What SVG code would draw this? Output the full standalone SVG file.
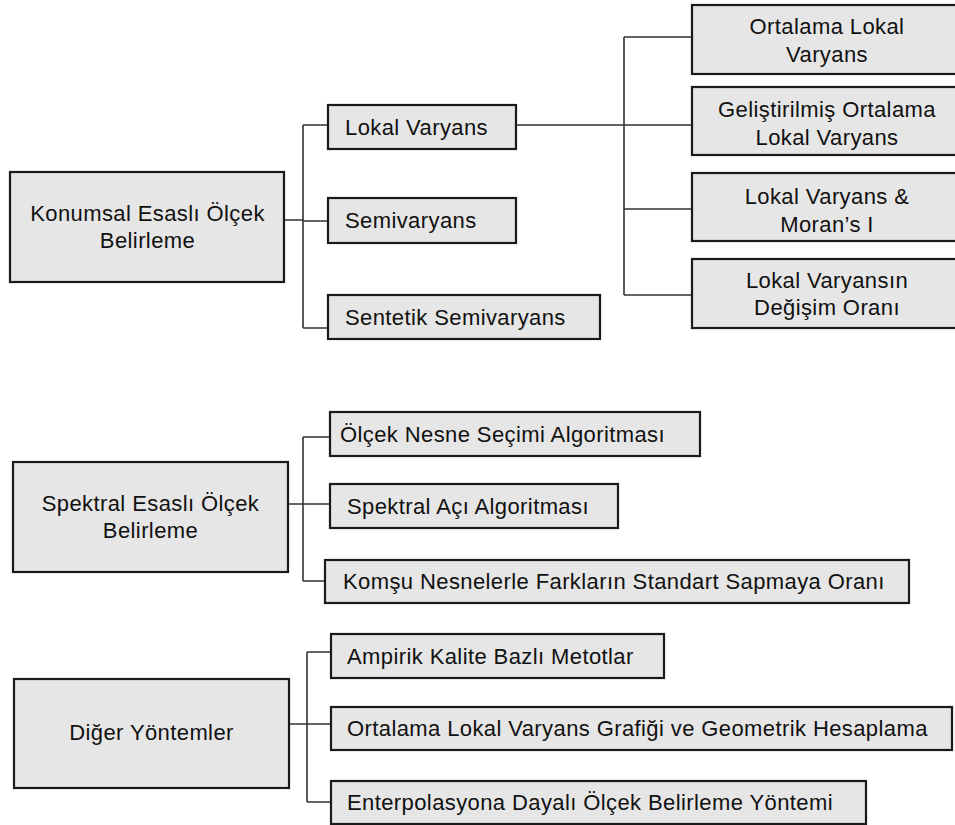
<svg xmlns="http://www.w3.org/2000/svg" width="955" height="825" viewBox="0 0 955 825">
<style>
.box{fill:#e6e6e6;stroke:#1a1a1a;stroke-width:2.2}
.c{fill:none;stroke:#333;stroke-width:1.6}
text{font-family:"Liberation Sans",Arial,sans-serif;font-size:22px;letter-spacing:0.4px;fill:#111}
.m{text-anchor:middle}
</style>
<rect width="955" height="825" fill="#fff"/>
<g id="connectors">
<path class="c" d="M284,220H303M303,125V328M303,125H328M303,221H328M303,328H328"/>
<path class="c" d="M516,125H624M624,37V295M624,37H692M624,125H692M624,209H692M624,295H692"/>
<path class="c" d="M288,504H303M303,437V581M303,437H330M303,504H330M303,581H325"/>
<path class="c" d="M289,724H307M307,652V802M307,652H331M307,724H331M307,802H331"/>
</g>
<g id="n-konumsal"><rect class="box" x="10" y="172" width="274" height="110"/><text class="m" x="147.5" y="221">Konumsal Esaslı Ölçek</text><text class="m" x="147.5" y="248">Belirleme</text></g>
<g id="n-lokal"><rect class="box" x="328" y="105" width="188" height="44"/><text x="345" y="135">Lokal Varyans</text></g>
<g id="n-semi"><rect class="box" x="328" y="198" width="188" height="45"/><text x="345" y="228">Semivaryans</text></g>
<g id="n-sentetik"><rect class="box" x="328" y="295" width="272" height="44"/><text x="345" y="325">Sentetik Semivaryans</text></g>
<g id="n-olv"><rect class="box" x="692" y="5" width="270" height="69"/><text class="m" x="827" y="34">Ortalama Lokal</text><text class="m" x="827" y="62">Varyans</text></g>
<g id="n-golv"><rect class="box" x="692" y="87" width="270" height="68"/><text class="m" x="827" y="117">Geliştirilmiş Ortalama</text><text class="m" x="827" y="145">Lokal Varyans</text></g>
<g id="n-moran"><rect class="box" x="692" y="173" width="270" height="68"/><text class="m" x="827" y="204">Lokal Varyans &amp;</text><text class="m" x="827" y="232">Moran’s I</text></g>
<g id="n-degisim"><rect class="box" x="692" y="259" width="270" height="69"/><text class="m" x="827" y="288">Lokal Varyansın</text><text class="m" x="827" y="315">Değişim Oranı</text></g>
<g id="n-spektral"><rect class="box" x="13" y="462" width="275" height="110"/><text class="m" x="150.5" y="511">Spektral Esaslı Ölçek</text><text class="m" x="150.5" y="538">Belirleme</text></g>
<g id="n-onsa"><rect class="box" x="330" y="412" width="370" height="44"/><text x="340" y="442">Ölçek Nesne Seçimi Algoritması</text></g>
<g id="n-saa"><rect class="box" x="330" y="484" width="288" height="44"/><text x="347" y="514">Spektral Açı Algoritması</text></g>
<g id="n-komsu"><rect class="box" x="325" y="560" width="584" height="43"/><text x="343" y="589">Komşu Nesnelerle Farkların Standart Sapmaya Oranı</text></g>
<g id="n-diger"><rect class="box" x="14" y="679" width="275" height="109"/><text class="m" x="151.5" y="740">Diğer Yöntemler</text></g>
<g id="n-ampirik"><rect class="box" x="331" y="634" width="333" height="44"/><text x="347" y="664">Ampirik Kalite Bazlı Metotlar</text></g>
<g id="n-olvg"><rect class="box" x="331" y="707" width="621" height="43"/><text x="347" y="736">Ortalama Lokal Varyans Grafiği ve Geometrik Hesaplama</text></g>
<g id="n-enterp"><rect class="box" x="331" y="781" width="535" height="43"/><text x="347" y="810">Enterpolasyona Dayalı Ölçek Belirleme Yöntemi</text></g>
</svg>
